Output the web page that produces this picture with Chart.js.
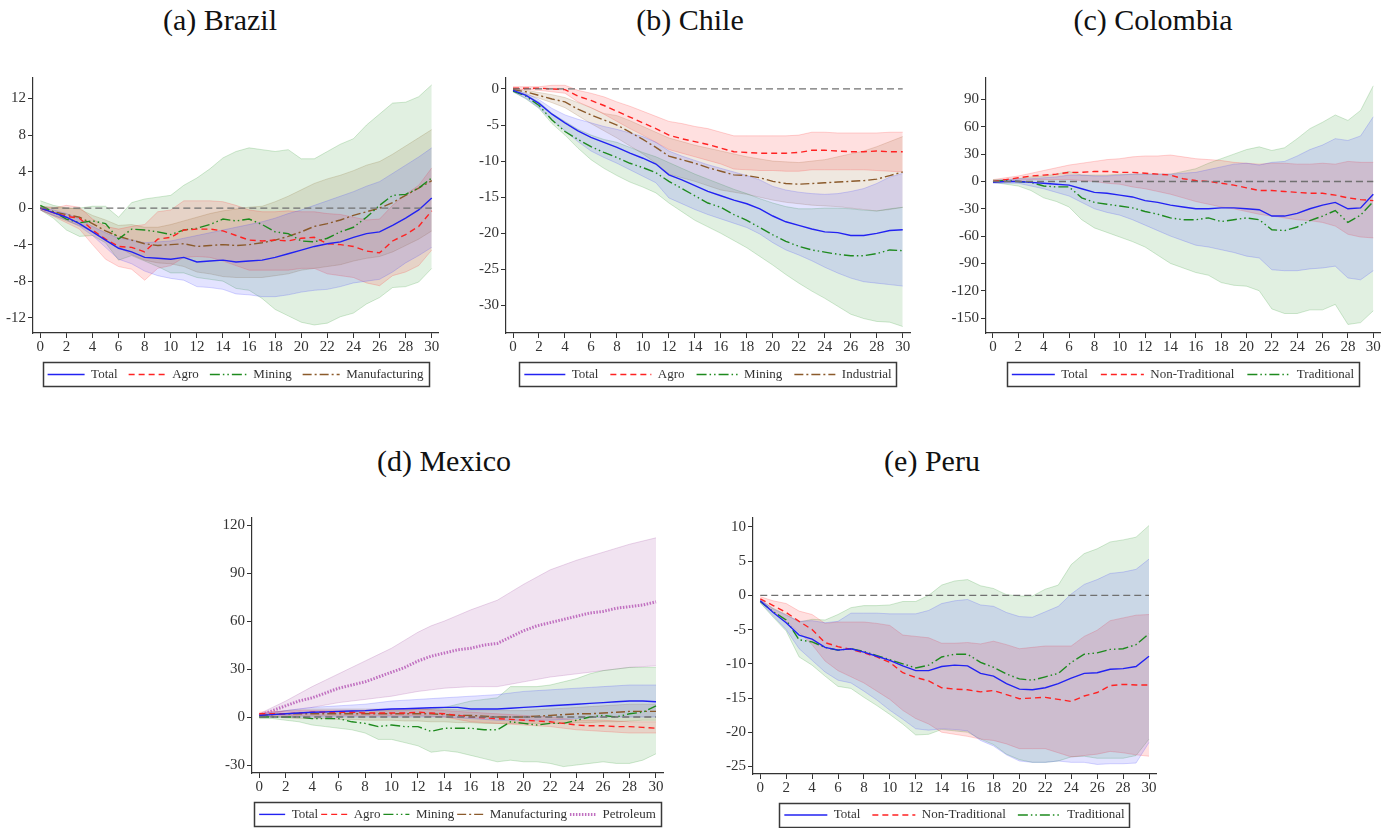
<!DOCTYPE html>
<html>
<head>
<meta charset="utf-8">
<script src="https://cdn.jsdelivr.net/npm/chart.js@4.4.1/dist/chart.umd.min.js"></script>
<style>
  html, body { margin: 0; padding: 0; background: #fff; overflow: hidden; }
  #page { position: relative; width: 1384px; height: 828px; overflow: hidden; }
  .title { position: absolute; width: 400px; text-align: center; font-family: "Liberation Serif", serif; font-size: 30px; line-height: 40px; color: #111; }
  canvas { position: absolute; }
</style>
</head>
<body>
<div id="page"></div>
<script>
// horizons (months after the shock)
const horizons = [0, 1, 2, 3, 4, 5, 6, 7, 8, 9, 10, 11, 12, 13, 14, 15, 16, 17, 18, 19, 20, 21, 22, 23, 24, 25, 26, 27, 28, 29, 30];
const xTicks = [0, 2, 4, 6, 8, 10, 12, 14, 16, 18, 20, 22, 24, 26, 28, 30];

// (a) Brazil
const brYTicks = [-12, -8, -4, 0, 4, 8, 12];
const brTotal = [0, -0.5, -1.0, -1.7, -2.6, -3.5, -4.4, -4.8, -5.4, -5.5, -5.6, -5.4, -5.9, -5.8, -5.7, -5.9, -5.8, -5.7, -5.4, -5.0, -4.6, -4.2, -3.9, -3.7, -3.2, -2.8, -2.6, -1.9, -1.1, -0.2, 1.1];
const brTotalLo = [-0.2, -0.8, -1.3, -2.0, -3.0, -4.3, -5.6, -6.1, -6.9, -7.4, -7.7, -7.9, -8.6, -8.7, -8.9, -9.4, -9.5, -9.7, -9.7, -9.5, -9.2, -9.0, -8.9, -8.6, -8.2, -8.0, -7.8, -7.0, -6.0, -5.2, -4.3];
const brTotalHi = [0.1, -0.2, -0.6, -1.2, -2.0, -2.7, -3.3, -3.5, -3.8, -3.7, -3.6, -3.3, -3.0, -2.7, -2.4, -2.1, -1.8, -1.5, -1.1, -0.6, -0.2, 0.3, 0.8, 1.3, 1.8, 2.4, 2.9, 3.8, 4.7, 5.6, 6.6];
const brAgro = [0, -0.5, -0.9, -1.1, -2.4, -3.4, -4.2, -4.3, -4.8, -3.4, -3.2, -2.4, -2.3, -2.3, -2.5, -3.0, -3.5, -3.6, -3.5, -3.6, -3.3, -3.2, -3.9, -4.0, -4.2, -4.7, -4.9, -3.6, -2.9, -2.0, -0.3];
const brAgroLo = [-0.2, -0.9, -1.6, -2.3, -4.0, -5.6, -6.4, -6.7, -7.9, -6.6, -6.3, -5.4, -5.3, -5.4, -5.8, -6.3, -6.8, -6.8, -6.8, -6.8, -6.6, -6.6, -7.2, -7.4, -7.6, -8.2, -8.5, -7.4, -7.0, -6.3, -4.6];
const brAgroHi = [0.2, 0.0, 0.3, 0.1, -1.2, -2.0, -2.3, -2.0, -1.8, -0.4, -0.2, 0.8, 0.8, 0.8, 0.7, 0.3, -0.2, -0.4, -0.4, -0.3, -0.4, -0.4, -0.6, -0.7, -1.0, -1.3, -1.2, 0.3, 1.5, 2.5, 4.4];
const brMining = [0.3, -0.4, -1.2, -1.6, -1.4, -1.7, -3.4, -2.3, -2.4, -2.6, -2.9, -2.4, -2.2, -1.8, -1.2, -1.4, -1.2, -1.8, -2.6, -2.8, -3.6, -3.7, -3.3, -2.6, -2.1, -1.0, 0.3, 1.4, 1.5, 2.2, 3.3];
const brMiningLo = [-0.2, -1.1, -2.4, -3.1, -3.0, -3.8, -5.7, -5.2, -5.8, -6.4, -7.1, -7.1, -7.6, -7.8, -8.0, -8.8, -9.0, -9.9, -11.1, -11.8, -12.5, -12.8, -12.6, -11.9, -11.5, -10.5, -9.8, -8.7, -8.6, -8.1, -6.6];
const brMiningHi = [0.8, 0.3, 0.0, 0.0, 0.2, 0.2, -1.0, 0.6, 1.0, 1.2, 1.4, 2.5, 3.3, 4.3, 5.5, 6.2, 6.6, 6.4, 6.2, 6.4, 5.4, 5.4, 6.2, 7.0, 7.6, 9.1, 10.3, 11.5, 11.6, 12.2, 13.5];
const brManuf = [0, -0.4, -0.7, -1.0, -1.7, -2.5, -3.1, -3.5, -3.9, -4.1, -4.0, -3.9, -4.2, -4.1, -4.0, -4.1, -4.0, -3.8, -3.5, -3.1, -2.6, -2.0, -1.7, -1.3, -0.8, -0.4, 0.0, 0.6, 1.4, 2.2, 3.0];
const brManufLo = [-0.2, -0.8, -1.4, -1.9, -2.6, -3.6, -4.3, -5.1, -5.7, -6.0, -6.1, -6.4, -7.0, -7.2, -7.5, -7.6, -7.6, -7.6, -7.4, -7.2, -6.8, -6.6, -6.4, -6.2, -5.8, -5.5, -5.3, -4.8, -4.1, -3.4, -2.5];
const brManufHi = [0.2, 0.1, 0.0, -0.1, -0.8, -1.3, -1.9, -1.8, -2.1, -2.1, -1.8, -1.4, -1.0, -0.6, -0.3, -0.1, 0.1, 0.2, 0.7, 1.3, 2.0, 2.7, 3.2, 3.6, 4.1, 4.7, 5.1, 5.9, 6.8, 7.7, 8.6];

// (b) Chile
const clYTicks = [-30, -25, -20, -15, -10, -5, 0];
const clTotal = [-0.2, -0.9, -2.0, -3.5, -4.7, -5.8, -6.7, -7.4, -8.1, -8.9, -9.6, -10.4, -11.9, -12.6, -13.4, -14.2, -14.8, -15.4, -15.9, -16.6, -17.6, -18.4, -18.9, -19.4, -19.8, -19.9, -20.3, -20.3, -20.0, -19.6, -19.5];
const clTotalLo = [-0.4, -1.3, -2.6, -4.3, -5.8, -7.3, -8.6, -9.5, -10.3, -11.2, -12.1, -13.0, -15.1, -15.9, -16.7, -17.4, -18.0, -18.6, -19.2, -20.1, -21.3, -22.3, -23.0, -23.8, -24.7, -25.5, -26.2, -26.7, -26.9, -27.1, -27.3];
const clTotalHi = [0, -0.6, -1.5, -2.7, -3.6, -4.2, -4.7, -5.2, -5.6, -6.1, -6.6, -7.4, -8.6, -9.3, -9.9, -10.5, -11.0, -11.5, -12.0, -12.6, -13.5, -14.0, -14.3, -14.5, -14.6, -14.5, -14.2, -13.8, -13.1, -12.2, -11.7];
const clAgro = [0.1, 0.1, 0.1, 0.0, -0.1, -1.0, -1.6, -2.3, -3.1, -3.9, -4.7, -5.5, -6.4, -6.9, -7.3, -7.7, -8.2, -8.7, -8.8, -8.9, -8.9, -8.9, -8.8, -8.5, -8.5, -8.6, -8.7, -8.7, -8.6, -8.7, -8.7];
const clAgroLo = [-0.1, -0.1, -0.2, -0.4, -0.6, -1.8, -2.6, -3.5, -4.5, -5.5, -6.4, -7.4, -8.4, -8.9, -9.4, -9.9, -10.4, -11.1, -11.2, -11.3, -11.3, -11.4, -11.4, -11.2, -11.2, -11.2, -11.2, -11.2, -11.3, -11.4, -11.5];
const clAgroHi = [0.3, 0.3, 0.3, 0.5, 0.5, -0.2, -0.6, -1.1, -1.8, -2.4, -3.1, -3.8, -4.5, -4.8, -5.2, -5.5, -6.0, -6.5, -6.5, -6.5, -6.5, -6.5, -6.4, -6.0, -6.0, -6.1, -6.1, -6.1, -6.1, -6.0, -6.0];
const clMining = [-0.3, -1.0, -2.3, -4.3, -5.9, -7.0, -8.0, -8.8, -9.5, -10.3, -10.9, -11.6, -12.8, -13.8, -14.8, -15.8, -16.4, -17.4, -18.2, -19.2, -20.2, -21.1, -21.8, -22.3, -22.6, -22.9, -23.1, -23.1, -22.8, -22.3, -22.4];
const clMiningLo = [-0.4, -1.4, -2.7, -4.8, -6.4, -8.2, -9.8, -11.0, -12.0, -12.9, -13.6, -14.4, -15.8, -17.0, -18.2, -19.1, -20.0, -21.0, -22.0, -23.2, -24.4, -25.7, -26.9, -28.0, -29.0, -30.1, -31.2, -31.8, -32.2, -32.3, -32.9];
const clMiningHi = [-0.1, -0.8, -1.8, -3.4, -4.5, -5.6, -6.4, -7.0, -7.4, -8.1, -8.8, -9.4, -10.2, -11.0, -11.8, -12.5, -13.2, -13.9, -14.5, -15.2, -15.8, -16.3, -16.6, -16.6, -16.5, -16.5, -16.6, -16.8, -16.9, -16.6, -16.4];
const clIndus = [-0.1, -0.4, -0.9, -1.4, -1.8, -2.8, -3.6, -4.3, -5.0, -6.0, -7.0, -8.1, -9.3, -9.8, -10.3, -10.9, -11.4, -11.9, -12.0, -12.3, -12.8, -13.1, -13.2, -13.1, -13.0, -12.9, -12.8, -12.7, -12.5, -12.0, -11.5];
const clIndusLo = [-0.3, -0.8, -1.3, -1.9, -2.6, -3.7, -4.8, -5.8, -6.8, -7.9, -9.0, -10.3, -11.8, -12.3, -12.8, -13.4, -14.0, -14.3, -14.6, -15.0, -15.4, -15.7, -15.9, -16.1, -16.2, -16.3, -16.5, -16.7, -16.9, -16.7, -16.4];
const clIndusHi = [0, -0.2, -0.5, -0.8, -1.2, -1.9, -2.6, -3.4, -3.7, -4.4, -5.2, -6.0, -6.8, -7.3, -7.8, -8.2, -8.6, -9.0, -9.4, -9.7, -10.0, -10.1, -10.2, -10.0, -9.8, -9.4, -9.0, -8.6, -8.0, -7.3, -6.6];

// (c) Colombia
const coYTicks = [-150, -120, -90, -60, -30, 0, 30, 60, 90];
const coTotal = [-1, 0, 0, -1, -2, -3, -4, -8, -12, -13, -15, -17, -21, -23, -26, -28, -30, -30, -29, -29, -30, -31, -38, -38, -35, -30, -26, -23, -30, -29, -14];
const coTotalLo = [-2, -2, -2, -5, -8, -12, -16, -23, -30, -34, -37, -42, -48, -54, -60, -65, -70, -72, -75, -78, -82, -84, -97, -98, -98, -96, -95, -93, -106, -108, -98];
const coTotalHi = [1, 2, 3, 3, 4, 5, 7, 7, 6, 6, 7, 8, 8, 8, 8, 9, 10, 13, 16, 19, 20, 18, 21, 22, 28, 35, 40, 47, 45, 50, 71];
const coNonTrad = [0, 2, 4, 6, 7, 8, 10, 10, 11, 11, 10, 10, 9, 8, 7, 3, 1, 0, -2, -4, -7, -10, -10, -11, -12, -13, -13, -15, -18, -20, -21];
const coNonTradLo = [-1, 0, 1, 2, 2, 2, 2, 1, 0, -2, -3, -6, -8, -11, -14, -18, -22, -25, -28, -30, -33, -36, -38, -40, -42, -43, -45, -49, -58, -61, -62];
const coNonTradHi = [2, 4, 6, 9, 12, 15, 18, 20, 22, 24, 25, 27, 28, 28, 29, 27, 25, 24, 23, 21, 20, 19, 20, 20, 19, 19, 20, 19, 22, 21, 21];
const coTrad = [0, 1, 0, -1, -5, -6, -6, -18, -23, -25, -27, -29, -33, -36, -40, -42, -42, -40, -44, -42, -40, -42, -53, -54, -50, -43, -38, -32, -45, -37, -22];
const coTradLo = [-1, -3, -5, -10, -18, -22, -28, -42, -51, -56, -61, -66, -72, -81, -90, -95, -100, -103, -111, -114, -115, -120, -140, -145, -145, -141, -141, -135, -157, -155, -142];
const coTradHi = [2, 2, 3, 5, 6, 8, 11, 7, 7, 7, 8, 8, 8, 8, 8, 11, 14, 20, 25, 30, 35, 38, 34, 37, 47, 58, 65, 73, 67, 78, 105];

// (d) Mexico
const mxYTicks = [-30, 0, 30, 60, 90, 120];
const mxTotal = [1, 1.5, 2, 2.5, 3, 3.2, 3.5, 3.8, 4, 4.5, 5, 5.2, 5.5, 5.8, 6, 6, 5, 5, 5, 5.5, 6, 6.5, 7, 7.5, 8, 8.5, 9, 9.5, 10, 10, 9.5];
const mxTotalLo = [0, 0, 0, 0, 0, 0, 0, 0, 0, 0, 0, 0, 0, 0, 0, -0.5, -1, -1.5, -2, -2, -2, -2, -2, -1.5, -1, -0.5, 0, 0, 0, 0, 0];
const mxTotalHi = [2, 3, 4, 5, 6, 6.5, 7, 7.5, 8, 9, 10, 10.5, 11, 11.5, 12, 12.5, 13, 13.5, 14, 15, 16, 16.5, 17, 17.5, 18, 18.5, 19, 19.5, 20, 20, 20];
const mxAgro = [2, 2, 2, 2.5, 3, 3, 3, 3, 2.5, 2.5, 2.5, 2.5, 3, 2.5, 2, 1, 0, -0.5, -1, -1.5, -2, -2.5, -3, -4, -5, -5.5, -5.5, -6, -6, -6.5, -7];
const mxAgroLo = [0, 0.5, 0.5, 1, 1, 1, 1, 1, 1, 1, 1, 1, 1, 0.5, 0, -1.5, -3, -3.5, -4, -4.5, -5, -5.5, -6, -7, -8, -8.5, -9, -9.5, -10, -10, -10];
const mxAgroHi = [3, 3.5, 3.5, 4, 4, 4, 4, 4, 4, 4.5, 4.5, 5, 5, 4.5, 4, 3.5, 3, 2.5, 2, 1.5, 1, 0.5, 0, -1, -2, -2, -2, -2.5, -3, -3, -3];
const mxMining = [0, 0, 0, 0, -1, -1, -1, -3, -4, -6, -5, -6, -6, -9, -7, -7, -7, -8, -8, -3, -4, -5, -4, -4, -2, 0, 1, 0, 2, 3, 7];
const mxMiningLo = [-1, -1, -2, -3, -5, -6, -7, -8, -10, -14, -14, -16, -18, -22, -21, -22, -24, -26, -28, -27, -28, -28, -29, -31, -30, -29, -28, -29, -29, -27, -23];
const mxMiningHi = [1, 2, 2, 3, 3, 3, 3, 3, 4, 4, 4, 4, 5, 5, 6, 8, 10, 11, 12, 19, 19, 19, 20, 22, 24, 27, 29, 30, 31, 31, 31];
const mxManuf = [1, 1.5, 2, 2, 2, 2, 2, 2, 2, 2, 2, 2, 2, 2, 1.5, 1, 1, 0.5, 0, 0, 0, 0.5, 1, 1.5, 2, 2, 2.5, 3, 3.5, 3.5, 3.5];
const mxManufLo = [0, 0, -0.5, -1, -1, -1, -1.5, -1.5, -2, -2, -2, -2.5, -2.5, -3, -3, -3.5, -3.5, -4, -4, -4, -4, -4, -4, -4, -3.5, -3.5, -3, -3, -2.5, -2, -2];
const mxManufHi = [2, 3, 4, 4.5, 5, 5, 5, 5, 5, 5, 5, 5, 5, 5, 5, 4.5, 4, 4, 4, 4, 4, 4.5, 5, 5.5, 6, 6.5, 7, 7.5, 8, 8, 8];
const mxPetrol = [1, 4, 7, 10, 12, 15, 18, 20, 22, 25, 28, 31, 35, 38, 40, 42, 43, 45, 46, 50, 54, 57, 59, 61, 63, 65, 66, 68, 69, 70, 72];
const mxPetrolLo = [0, 2, 4, 5, 6, 7.5, 9, 10, 11, 12, 13, 14.5, 16, 17, 18, 18.5, 19, 19, 19, 20.5, 22, 23.5, 25, 26, 27, 28, 29, 30, 31, 31.5, 32];
const mxPetrolHi = [2, 6, 10, 14.5, 19, 23, 27, 31, 35, 39, 43, 48, 53, 57, 60, 63.5, 67, 70, 73, 78, 83, 87.5, 92, 95, 98, 100.5, 103, 105.5, 108, 110, 112];

// (e) Peru
const peYTicks = [-25, -20, -15, -10, -5, 0, 5, 10];
const peTotal = [-0.8, -2.5, -4.0, -5.8, -6.4, -7.6, -8.0, -7.8, -8.3, -8.9, -9.5, -10.3, -11.0, -11.0, -10.4, -10.2, -10.3, -11.4, -11.8, -12.9, -13.7, -13.8, -13.5, -12.9, -12.1, -11.4, -11.3, -10.8, -10.7, -10.4, -8.9];
const peTotalLo = [-1.0, -3.0, -5.0, -7.8, -9.5, -11.2, -12.4, -12.8, -14.0, -15.3, -16.8, -18.1, -19.5, -19.7, -19.5, -19.6, -19.8, -21.2, -22.0, -23.3, -24.2, -24.4, -24.4, -24.2, -24.4, -24.4, -24.7, -24.6, -24.6, -24.5, -21.5];
const peTotalHi = [-0.6, -2.0, -2.9, -3.8, -3.7, -4.0, -3.8, -2.6, -2.6, -2.6, -2.7, -2.7, -2.7, -2.2, -1.2, -0.8, -0.6, -1.4, -1.6, -2.5, -3.1, -3.2, -2.4, -1.6, 0.2, 1.6, 2.3, 3.2, 3.4, 3.8, 5.3];
const peNonTrad = [-0.5, -1.5, -2.5, -3.8, -5.0, -6.9, -7.5, -7.9, -8.4, -9.0, -9.8, -11.3, -12.0, -12.5, -13.5, -13.7, -13.8, -14.1, -13.9, -14.5, -15.1, -15.0, -14.9, -15.2, -15.5, -14.7, -14.2, -13.2, -13.0, -13.1, -13.1];
const peNonTradLo = [-0.8, -2.3, -3.8, -5.4, -7.2, -9.6, -11.0, -11.9, -12.8, -14.0, -15.2, -16.8, -18.0, -18.8, -20.0, -20.3, -20.6, -21.0, -21.2, -21.7, -22.4, -22.4, -22.4, -23.0, -23.6, -23.4, -23.2, -22.8, -23.0, -23.3, -23.5];
const peNonTradHi = [-0.2, -0.8, -1.2, -2.3, -2.8, -4.1, -3.9, -3.9, -3.9, -4.1, -4.4, -5.8, -6.0, -6.2, -7.0, -7.0, -6.9, -7.1, -6.7, -7.2, -7.8, -7.6, -7.4, -7.4, -7.4, -6.0, -5.1, -3.7, -3.3, -2.9, -2.8];
const peTrad = [-0.9, -2.4, -3.6, -6.5, -6.8, -7.6, -8.0, -7.8, -8.2, -8.8, -9.4, -10.0, -10.6, -10.2, -9.0, -8.6, -8.6, -9.8, -10.5, -11.5, -12.2, -12.4, -11.9, -11.4, -9.8, -8.6, -8.4, -7.9, -7.8, -7.2, -5.6];
const peTradLo = [-1.1, -3.2, -5.2, -9.0, -10.2, -11.8, -13.3, -13.6, -14.9, -16.1, -17.4, -18.8, -20.4, -20.3, -19.6, -19.8, -20.0, -21.0, -21.8, -23.2, -24.0, -24.4, -24.4, -24.2, -23.6, -23.5, -23.8, -23.8, -23.8, -23.4, -21.0];
const peTradHi = [-0.7, -1.9, -2.8, -3.9, -3.5, -3.6, -2.8, -1.8, -1.5, -1.5, -1.4, -0.9, -0.9, 0, 1.5, 2.1, 2.3, 1.4, 1.0, 0.1, -0.1, -0.1, 0.9, 1.5, 4.5, 6.1, 6.8, 7.8, 8.1, 8.5, 10.2];

const SERIF = '"Liberation Serif", "Times New Roman", serif';

const styles = {
  total:  { color: '#2222f2', dash: [], width: 1.4, band: 'rgba(60,60,255,0.14)', edge: 'rgba(60,60,255,0.30)' },
  agro:   { color: '#ff2222', dash: [6, 4], width: 1.4, band: 'rgba(255,50,50,0.15)', edge: 'rgba(255,50,50,0.30)' },
  mining: { color: '#1e8a1e', dash: [10, 3, 1.5, 3, 1.5, 3], width: 1.4, band: 'rgba(40,150,40,0.14)', edge: 'rgba(40,150,40,0.30)' },
  manuf:  { color: '#8b5a2b', dash: [9, 3, 2, 3], width: 1.4, band: 'rgba(150,100,50,0.15)', edge: 'rgba(150,100,50,0.30)' },
  petrol: { color: '#c070c0', dash: [1.5, 1.5], width: 3, band: 'rgba(170,90,170,0.17)', edge: 'rgba(170,90,170,0.35)' }
};

const panels = [
  { title: '(a) Brazil', titleX: 220, titleY: 20, area: [33, 438, 77, 333], legendMid: 374.5, pad: 11, boxW: 37,
    x: [-0.56, 30.48], y: [-13.68, 14.25], yTicks: brYTicks,
    series: [
      ['Total', brTotal, brTotalLo, brTotalHi, 'total'],
      ['Agro', brAgro, brAgroLo, brAgroHi, 'agro'],
      ['Mining', brMining, brMiningLo, brMiningHi, 'mining'],
      ['Manufacturing', brManuf, brManufLo, brManufHi, 'manuf']
    ] },
  { title: '(b) Chile', titleX: 690, titleY: 20, area: [506, 910, 77, 333], legendMid: 374.5, pad: 12, boxW: 41,
    x: [-0.54, 30.56], y: [-33.8, 1.51], yTicks: clYTicks,
    series: [
      ['Total', clTotal, clTotalLo, clTotalHi, 'total'],
      ['Agro', clAgro, clAgroLo, clAgroHi, 'agro'],
      ['Mining', clMining, clMiningLo, clMiningHi, 'mining'],
      ['Industrial', clIndus, clIndusLo, clIndusHi, 'manuf']
    ] },
  { title: '(c) Colombia', titleX: 1153, titleY: 20, area: [986, 1380, 77, 333], legendMid: 374.5, pad: 13, boxW: 43,
    x: [-0.55, 30.53], y: [-166.4, 113.6], yTicks: coYTicks,
    series: [
      ['Total', coTotal, coTotalLo, coTotalHi, 'total'],
      ['Non-Traditional', coNonTrad, coNonTradLo, coNonTradHi, 'agro'],
      ['Traditional', coTrad, coTradLo, coTradHi, 'mining']
    ] },
  { title: '(d) Mexico', titleX: 444, titleY: 461, area: [252, 663, 517, 773], legendMid: 814.4, pad: 3, boxW: 26,
    x: [-0.55, 30.53], y: [-35.0, 124.4], yTicks: mxYTicks,
    series: [
      ['Total', mxTotal, mxTotalLo, mxTotalHi, 'total'],
      ['Agro', mxAgro, mxAgroLo, mxAgroHi, 'agro'],
      ['Mining', mxMining, mxMiningLo, mxMiningHi, 'mining'],
      ['Manufacturing', mxManuf, mxManufLo, mxManufHi, 'manuf'],
      ['Petroleum', mxPetrol, mxPetrolLo, mxPetrolHi, 'petrol']
    ] },
  { title: '(e) Peru', titleX: 932, titleY: 461, area: [753, 1156, 517, 774], legendMid: 815, pad: 12, boxW: 43,
    x: [-0.56, 30.54], y: [-26.1, 11.3], yTicks: peYTicks,
    series: [
      ['Total', peTotal, peTotalLo, peTotalHi, 'total'],
      ['Non-Traditional', peNonTrad, peNonTradLo, peNonTradHi, 'agro'],
      ['Traditional', peTrad, peTradLo, peTradHi, 'mining']
    ] }
];

const pts = vals => horizons.map((h, i) => ({ x: h, y: vals[i] }));

// legend entries keep each line's colour, width and dash pattern
const lineLegendItems = chart => chart.data.datasets
  .map((ds, i) => ({
    text: ds.label, datasetIndex: i, hidden: false, pointStyle: 'line',
    strokeStyle: ds.borderColor, fillStyle: ds.borderColor,
    lineWidth: ds.borderWidth, lineDash: ds.borderDash, lineCap: 'butt', fontColor: '#333'
  }))
  .filter(item => item.text !== '');

// dashed reference line at zero
const zeroLine = {
  id: 'zeroLine',
  afterDatasetsDraw(chart) {
    const { ctx, scales } = chart;
    const y = scales.y.getPixelForValue(0);
    ctx.save();
    ctx.strokeStyle = '#707070';
    ctx.lineWidth = 1.4;
    ctx.setLineDash([7, 4]);
    ctx.beginPath();
    ctx.moveTo(scales.x.getPixelForValue(0), y);
    ctx.lineTo(scales.x.getPixelForValue(30), y);
    ctx.stroke();
    ctx.restore();
  }
};

// frame around the legend row
const legendFrame = {
  id: 'legendFrame',
  afterDraw(chart) {
    const boxes = chart.legend && chart.legend.legendHitBoxes;
    if (!boxes || !boxes.length) return;
    const left = Math.min(...boxes.map(b => b.left));
    const right = Math.max(...boxes.map(b => b.left + b.width));
    const top = boxes[0].top, h = boxes[0].height;
    const ctx = chart.ctx;
    ctx.save();
    ctx.strokeStyle = '#3a3a3a';
    ctx.lineWidth = 1.5;
    ctx.strokeRect(Math.round(left - 5) + 0.5, Math.round(top - 5) - 0.5, Math.round(right - left + 10), Math.round(h + 11));
    ctx.restore();
  }
};

const page = document.getElementById('page');

panels.forEach(p => {
  const [L, R, T, B] = p.area;
  const left = L - 40, top = T - 10;
  const width = R - left + 10;
  const xH = p.legendMid - B - p.pad - 6.5;
  const rawH = (B - top) + xH + 13 + p.pad + 10;
  const height = Math.ceil(rawH);

  const t = document.createElement('div');
  t.className = 'title';
  t.textContent = p.title;
  t.style.left = (p.titleX - 200) + 'px';
  t.style.top = (p.titleY - 20) + 'px';
  page.appendChild(t);

  const c = document.createElement('canvas');
  c.width = width; c.height = height;
  c.style.left = left + 'px'; c.style.top = top + 'px';
  c.style.width = width + 'px'; c.style.height = height + 'px';
  page.appendChild(c);

  const lines = [], bands = [];
  p.series.forEach(([label, mid, lo, hi, key]) => {
    const s = styles[key];
    lines.push({ label, data: pts(mid), borderColor: s.color, backgroundColor: s.color, borderDash: s.dash,
      borderWidth: s.width, pointRadius: 0, tension: 0, fill: false, order: 0 });
    bands.push({ label: '', data: pts(hi), borderColor: s.edge, backgroundColor: s.band, borderWidth: 0.7,
      pointRadius: 0, tension: 0, fill: '+1', order: 2 });
    bands.push({ label: '', data: pts(lo), borderColor: s.edge, backgroundColor: s.band, borderWidth: 0.7,
      pointRadius: 0, tension: 0, fill: false, order: 2 });
  });

  const gridStyle = { display: true, drawOnChartArea: false, drawTicks: true, tickLength: 5, color: '#333', lineWidth: 1 };
  const borderStyle = { display: true, color: '#333', width: 1.2 };
  const tickFont = { family: SERIF, size: 15 };

  new Chart(c, {
    type: 'line',
    data: { datasets: lines.concat(bands) },
    options: {
      responsive: false,
      animation: false,
      devicePixelRatio: 1,
      layout: { padding: { top: 10, right: 10, left: 0, bottom: height - rawH } },
      scales: {
        x: {
          type: 'linear', min: p.x[0], max: p.x[1],
          grid: gridStyle, border: borderStyle,
          ticks: { color: '#333', font: tickFont, padding: 0, autoSkip: false, maxRotation: 0 },
          afterBuildTicks: s => { s.ticks = xTicks.map(v => ({ value: v })); },
          afterFit: s => { s.height = xH; }
        },
        y: {
          type: 'linear', min: p.y[0], max: p.y[1],
          grid: gridStyle, border: borderStyle,
          ticks: { color: '#333', font: tickFont, padding: 2, autoSkip: false },
          afterBuildTicks: s => { s.ticks = p.yTicks.map(v => ({ value: v })); },
          afterFit: s => { s.width = 40; }
        }
      },
      plugins: {
        tooltip: { enabled: false },
        legend: {
          position: 'bottom',
          fullSize: false,
          labels: {
            usePointStyle: true, pointStyle: 'line', pointStyleWidth: p.boxW,
            padding: p.pad, color: '#333', font: { family: SERIF, size: 13 },
            generateLabels: lineLegendItems
          }
        }
      }
    },
    plugins: [zeroLine, legendFrame]
  });
});
</script>
</body>
</html>
